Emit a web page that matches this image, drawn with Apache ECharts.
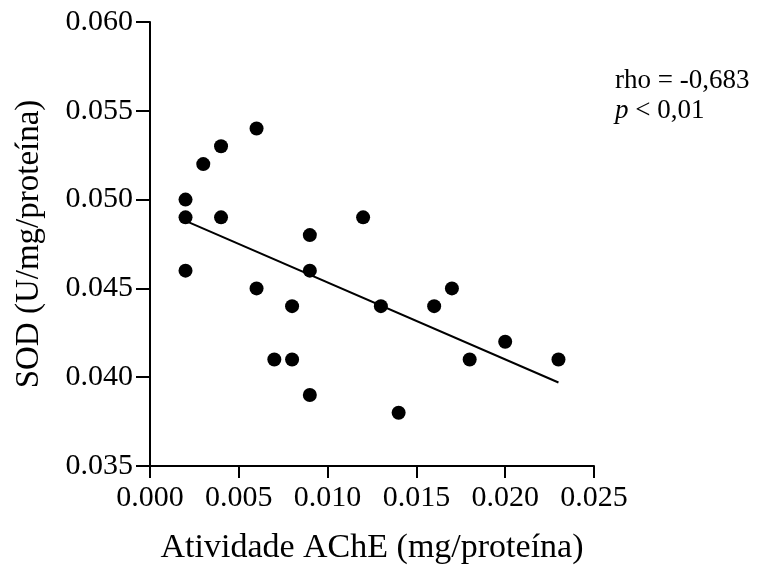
<!DOCTYPE html>
<html lang="pt">
<head>
    <meta charset="UTF-8">
    <title>SOD x AChE</title>
    <script type="text/javascript" src="https://cdn.jsdelivr.net/npm/echarts@6/dist/echarts.min.js"></script>
</head>
<body style="margin:0">
<div id="main" style="width: 762px; height:570px;"></div>

<script>
    // pontos (AChE, SOD)
    var ache = [0.002, 0.002, 0.002, 0.003, 0.004, 0.004, 0.006, 0.006, 0.007, 0.008, 0.008,
                0.009, 0.009, 0.009, 0.012, 0.013, 0.014, 0.016, 0.017, 0.018, 0.020, 0.023];
    var sod = [0.050, 0.049, 0.046, 0.052, 0.053, 0.049, 0.054, 0.045, 0.041, 0.044, 0.041,
               0.048, 0.046, 0.039, 0.049, 0.044, 0.038, 0.044, 0.045, 0.041, 0.042, 0.041];
    // reta de regressao (extremos)
    var fitX = [0.002, 0.023];
    var fitY = [0.0488, 0.0397];

    var xTicks = [0, 0.025, 0.005];
    var yTicks = [0.035, 0.060, 0.005];

    var pts = [];
    for (var i = 0; i < ache.length; i++) {
        pts.push([ache[i], sod[i]]);
    }
    var fit = [[fitX[0], fitY[0]], [fitX[1], fitY[1]]];

    var fonte = 'Liberation Serif';

    var myChart = echarts.init(document.getElementById('main'));

    var option = {
        backgroundColor: '#fff',
        animation: false,
        title: {
            left: 610,
            top: 61,
            text: 'rho = -0,683\n{i|p} < 0,01',
            textStyle: {
                fontFamily: fonte,
                fontSize: 27,
                fontWeight: 'normal',
                color: '#000',
                lineHeight: 30,
                rich: {
                    i: {fontFamily: fonte, fontSize: 27, fontStyle: 'italic', color: '#000'}
                }
            }
        },
        grid: {
            left: 150,
            top: 22,
            width: 444,
            height: 445
        },
        xAxis: {
            type: 'value',
            min: xTicks[0],
            max: xTicks[1],
            interval: xTicks[2],
            name: 'Atividade AChE (mg/proteína)',
            nameLocation: 'middle',
            nameGap: 65,
            nameTextStyle: {fontFamily: fonte, fontSize: 34, color: '#000'},
            axisLine: {onZero: false, lineStyle: {color: '#000', width: 2}},
            axisTick: {length: 12, lineStyle: {color: '#000', width: 2}},
            axisLabel: {
                fontFamily: fonte, fontSize: 30, color: '#000', margin: 17,
                formatter: function (v) { return v.toFixed(3); }
            },
            splitLine: {show: false}
        },
        yAxis: {
            type: 'value',
            min: yTicks[0],
            max: yTicks[1],
            interval: yTicks[2],
            name: 'SOD (U/mg/proteína)',
            nameLocation: 'middle',
            nameGap: 104,
            nameTextStyle: {fontFamily: fonte, fontSize: 33, color: '#000'},
            axisLine: {onZero: false, lineStyle: {color: '#000', width: 2}},
            axisTick: {length: 14, lineStyle: {color: '#000', width: 2}},
            axisLabel: {
                fontFamily: fonte, fontSize: 30, color: '#000', margin: 17,
                formatter: function (v) { return v.toFixed(3); }
            },
            splitLine: {show: false}
        },
        series: [
            {
                type: 'scatter',
                data: pts,
                symbolSize: 14,
                itemStyle: {color: '#000', opacity: 1}
            },
            {
                type: 'line',
                data: fit,
                symbol: 'none',
                lineStyle: {color: '#000', width: 2}
            }
        ]
    };

    myChart.setOption(option);
</script>
</body>
</html>
